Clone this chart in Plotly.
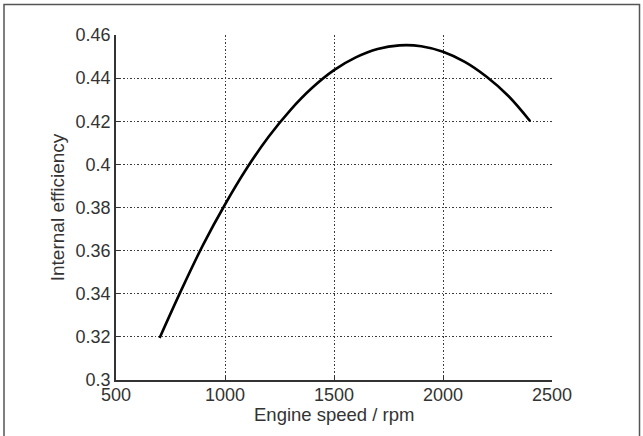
import plotly.graph_objects as go

rpm = [700, 800, 900, 1000, 1100, 1200, 1300, 1400, 1500, 1600, 1700, 1800, 1900, 2000, 2100, 2200, 2300, 2400]
eff = [0.3195, 0.3418, 0.3628, 0.3814, 0.3982, 0.4128, 0.4252, 0.4355, 0.4437, 0.4496, 0.4535, 0.4552, 0.4548, 0.4522, 0.4475, 0.4406, 0.4317, 0.4200]

x_ticks = [500, 1000, 1500, 2000, 2500]
y_ticks = [0.30, 0.32, 0.34, 0.36, 0.38, 0.40, 0.42, 0.44, 0.46]
y_tick_text = ["0.3", "0.32", "0.34", "0.36", "0.38", "0.4", "0.42", "0.44", "0.46"]
x_title = "Engine speed / rpm"
y_title = "Internal efficiency"

fig = go.Figure()
fig.add_trace(go.Scatter(x=rpm, y=eff, mode="lines",
                         line=dict(color="black", width=2.6, shape="spline", smoothing=1.0),
                         showlegend=False))

font = "Liberation Sans, Arial, sans-serif"
L, R, T, B = 116, 91, 35, 56
W, H = 643, 436
pw, ph = W - L - R, H - T - B

grid_style = dict(showgrid=True, gridcolor="#3a3a3a", gridwidth=1, griddash="1.5px,2px",
                  showline=True, linecolor="#333333", linewidth=1.5, mirror=False,
                  ticks="inside", ticklen=4, tickcolor="#333333", zeroline=False)

fig.update_layout(
    width=W, height=H,
    margin=dict(l=L, r=R, t=T, b=B),
    paper_bgcolor="white", plot_bgcolor="white",
    font=dict(family=font, size=18, color="#333333"),
    xaxis=dict(range=[500, 2500], tickvals=x_ticks, ticktext=[str(v) for v in x_ticks],
               ticklabelstandoff=-2, **grid_style),
    yaxis=dict(range=[0.30, 0.46], tickvals=y_ticks, ticktext=y_tick_text,
               title=dict(text=y_title, font=dict(size=19, family=font, color="#333333"), standoff=6),
               **grid_style),
)

fig.add_annotation(text=x_title, xref="paper", yref="paper", x=0.5, y=(H - B - 414) / ph,
                   xanchor="center", yanchor="middle", showarrow=False,
                   font=dict(size=18.5, family=font, color="#333333"))

# outer frame of the figure image
fig.add_shape(type="rect", xref="paper", yref="paper",
              x0=(4 - L) / pw, x1=(639.5 - L) / pw,
              y0=(H - B - 445) / ph, y1=(H - B - 4.5) / ph,
              line=dict(color="#555555", width=1.5), fillcolor="rgba(0,0,0,0)", layer="below")

fig.write_html("out.html")
